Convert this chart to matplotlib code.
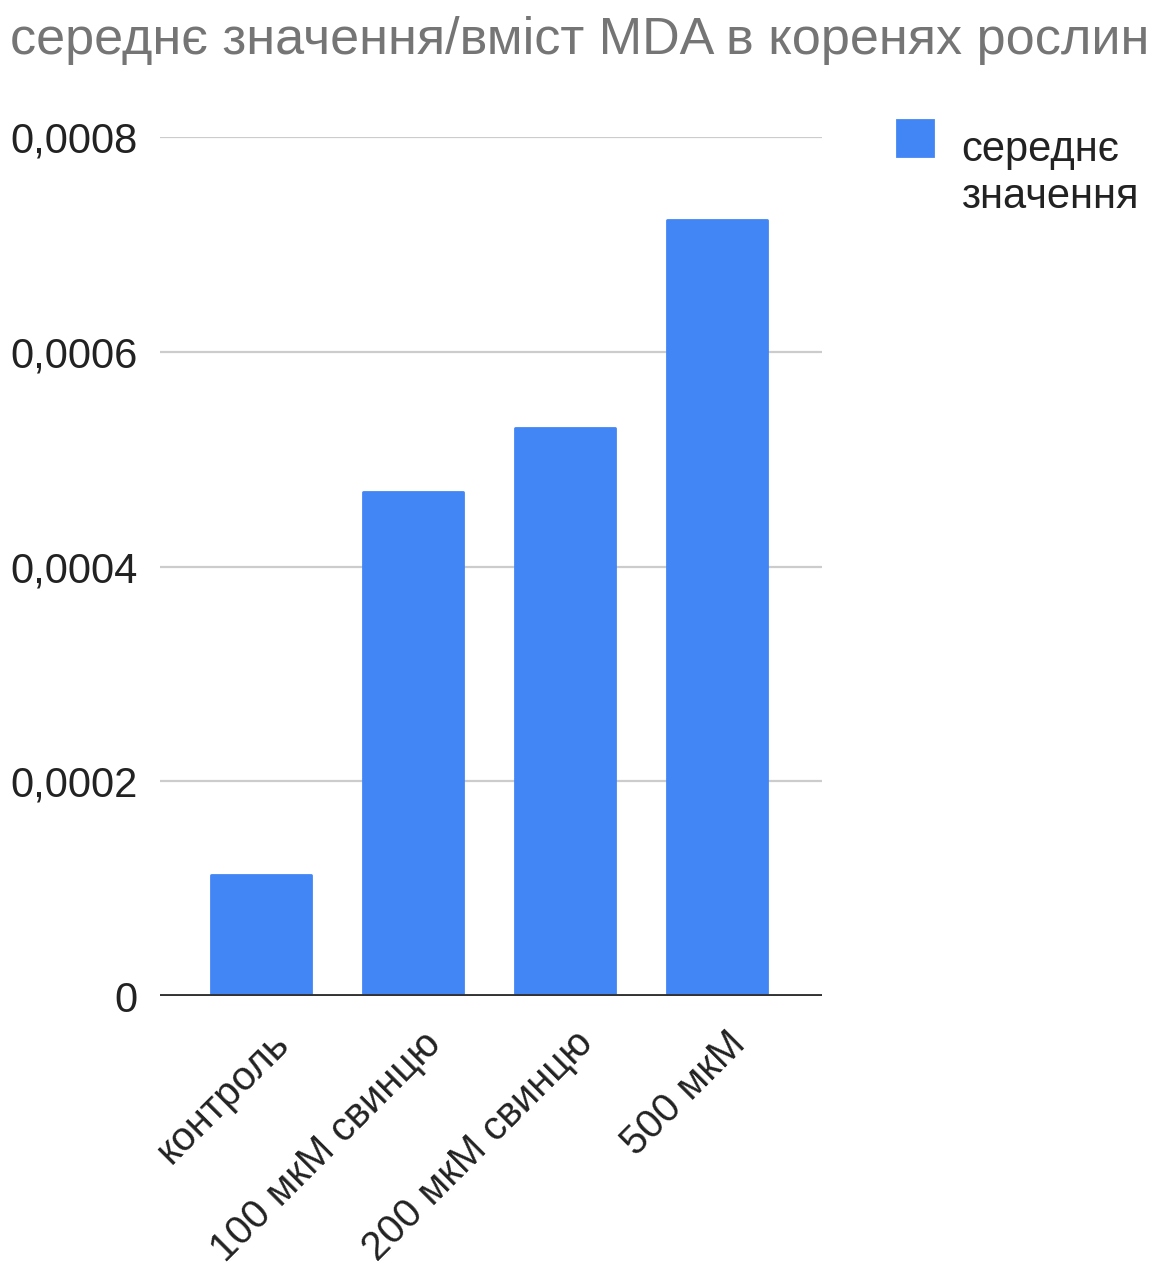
import matplotlib
matplotlib.use("Agg")
import matplotlib.pyplot as plt
import matplotlib.transforms as mtransforms
from matplotlib.patches import Rectangle
from matplotlib.container import BarContainer
from matplotlib.legend_handler import HandlerPatch
from matplotlib.ticker import FixedLocator

plt.rcParams['font.family'] = ['Liberation Sans', 'DejaVu Sans']

# Mean MDA content in plant roots per treatment
categories = ["контроль", "100 мкМ свинцю", "200 мкМ свинцю", "500 мкМ"]
mean_values = [0.000113, 0.000469, 0.000529, 0.000723]
y_ticks = [0, 0.0002, 0.0004, 0.0006, 0.0008]
y_tick_labels = ["0", "0,0002", "0,0004", "0,0006", "0,0008"]
series_name = "середнє\nзначення"
title = "середнє значення/вміст MDA в коренях рослин"

BLUE = "#4285F4"
W, H, DPI = 1161, 1266, 100

fig = plt.figure(figsize=(W / DPI, H / DPI), dpi=DPI)
ax = fig.add_axes([160 / W, 1 - 996 / H, (822 - 160) / W, (996 - 137) / H])

x = list(range(len(categories)))
ax.bar(x, mean_values, width=0.66, color=BLUE, edgecolor=BLUE,
       linewidth=2, joinstyle="round", zorder=3, label=series_name)

ax.set_xlim(-0.665, 3.69)
ax.set_ylim(0, 0.0008)
ax.yaxis.set_major_locator(FixedLocator(y_ticks))
ax.set_yticklabels(y_tick_labels)
ax.grid(axis="y", color="#cccccc", linewidth=1.6, zorder=0)
ax.axhline(0, color="#333333", linewidth=2.8, zorder=4)

for s in ax.spines.values():
    s.set_visible(False)
ax.tick_params(axis="both", length=0, labelsize=30, labelcolor="#222222")
ax.tick_params(axis="y", pad=16)

ax.set_xticks(x)
ax.set_xticklabels(categories, rotation=45, ha="right", va="center",
                   rotation_mode="anchor", fontsize=29)
ax.tick_params(axis="x", pad=30)
shift = mtransforms.ScaledTranslation(22 / DPI, 0, fig.dpi_scale_trans)
for lbl in ax.get_xticklabels():
    lbl.set_transform(lbl.get_transform() + shift)

fig.text(580 / W, 1 - 54 / H, title, ha="center", va="baseline",
         fontsize=37.5, color="#757575")


def square_top(legend, orig_handle, xdescent, ydescent, width, height, fontsize):
    # square legend key aligned with the first line of the label
    side = 36 * 72 / DPI
    return Rectangle((-xdescent, -ydescent + height - side + 0.3 * fontsize + 17),
                     side, side)


def first_child(legend_handle, orig_handle):
    legend_handle.update_from(orig_handle.patches[0])


leg = ax.legend(loc="upper left", bbox_to_anchor=(897 / W, 1 - 130 / H),
                bbox_transform=fig.transFigure, frameon=False, fontsize=30,
                handlelength=1.0, handleheight=1.0, handletextpad=0.54,
                borderaxespad=0, borderpad=0,
                handler_map={BarContainer: HandlerPatch(patch_func=square_top,
                                                        update_func=first_child)})
for t in leg.get_texts():
    t.set_color("#222222")
    t.set_linespacing(1.22)

fig.savefig("out.png", dpi=DPI, facecolor="white")
